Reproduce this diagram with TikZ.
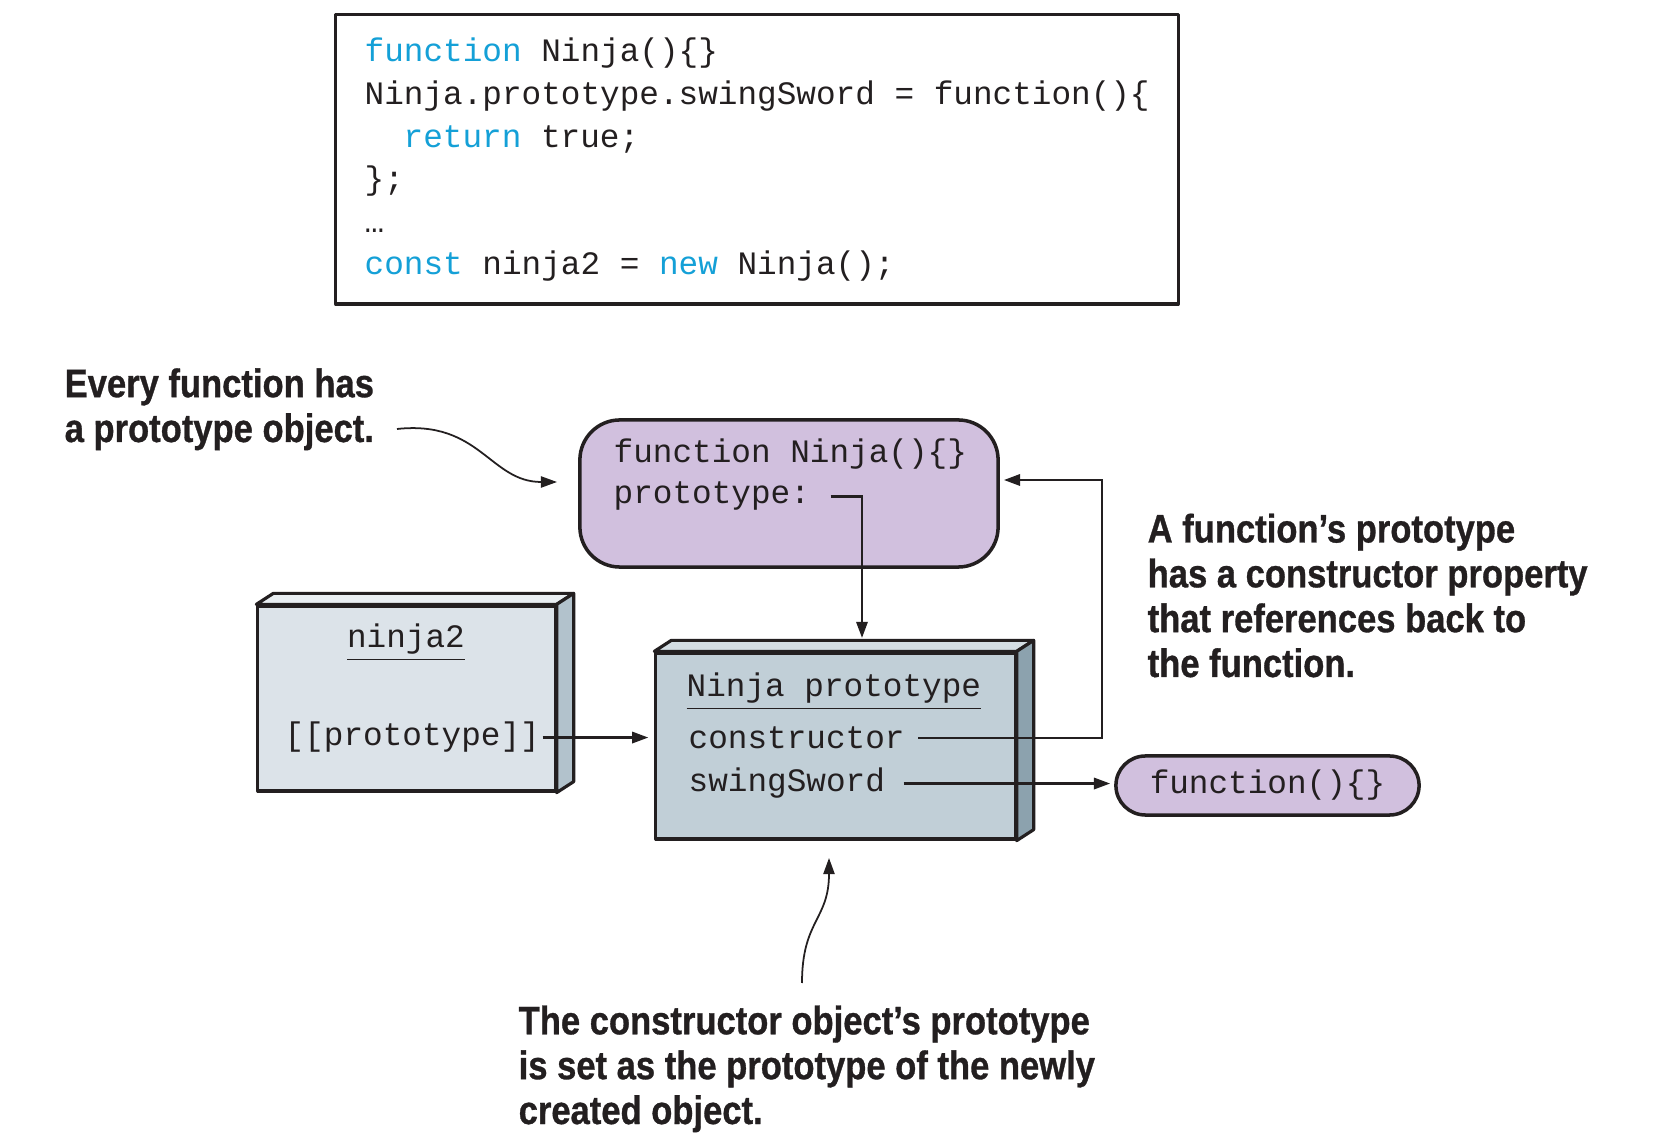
\documentclass[tikz,border=0pt]{standalone}
\usepackage{fontspec}
\setmainfont{Liberation Sans}
\newfontfamily\codefont{Liberation Mono}
\newfontfamily\notefont[FakeStretch=0.87,BoldFeatures={FakeBold=0.8}]{Liberation Sans}
\usetikzlibrary{arrows.meta,calc}

\definecolor{ink}{RGB}{35,31,32}
\definecolor{codeblue}{RGB}{20,160,215}
\definecolor{funcfill}{RGB}{209,192,222}
\definecolor{ninjafront}{RGB}{220,227,233}
\definecolor{ninjatop}{RGB}{233,238,242}
\definecolor{ninjaside}{RGB}{178,194,204}
\definecolor{protofront}{RGB}{193,207,215}
\definecolor{prototop}{RGB}{212,222,228}
\definecolor{protoside}{RGB}{140,162,174}

\begin{document}
\begin{tikzpicture}[x=0.01cm,y=-0.01cm,
  code/.style={font=\codefont\fontsize{9.3}{12.1}\selectfont,inner sep=0pt,anchor=base west,text=ink},
  note/.style={font=\notefont\bfseries\fontsize{11.3}{12.75}\selectfont,inner sep=0pt,anchor=base west,align=left,text=ink},
  face/.style={draw=ink,line width=0.9pt,line join=round},
  conn/.style={draw=ink,line width=0.7pt},
  tip/.style={-{Triangle[length=4.6pt,width=3.2pt]}}]
  \fill[white] (0,0) rectangle (1672,1137);
  \useasboundingbox (0,0) rectangle (1672,1137);

  % code listing
  \node[face,minimum width=8.42cm,minimum height=2.89cm,inner sep=0pt] (codebox) at (757,159.5) {};
  \node[code] (c1) at (364,62) {\textcolor{codeblue}{function} Ninja()\{\}};
  \node[code] (c2) at (364,105) {Ninja.prototype.swingSword = function()\{};
  \node[code] (c3) at (403,148) {\textcolor{codeblue}{return} true;};
  \node[code] (c4) at (364,190) {\};};
  \node[code] (c5) at (364,233) {…};
  \node[code] (c6) at (364,275) {\textcolor{codeblue}{const} ninja2 = \textcolor{codeblue}{new} Ninja();};

  % the Ninja function
  \node[face,fill=funcfill,line width=1pt,rounded corners=0.4cm,minimum width=4.18cm,minimum height=1.47cm] (ninjafn) at (789,493.5) {};
  \node[code] (fnname) at (613,463) {function Ninja()\{\}};
  \node[code] (fnproto) at (613,504) {prototype:};

  % ninja2 object
  \node[face,fill=ninjafront,minimum width=2.97cm,minimum height=1.85cm] (ninja2) at (406.5,698.5) {};
  \draw[face,fill=ninjatop] (ninja2.north west) -- ++(17,-11) -- ($(ninja2.north east)+(17,-11)$) -- (ninja2.north east) -- cycle;
  \draw[face,fill=ninjaside] (ninja2.north east) -- ++(17,-11) -- ($(ninja2.south east)+(17,-11)$) -- (ninja2.south east) -- cycle;
  \node[code,anchor=base] (n2name) at (406,648) {\underline{ninja2}};
  \node[code] (n2proto) at (284,746) {[[prototype]]};

  % Ninja prototype object
  \node[face,fill=protofront,minimum width=3.59cm,minimum height=1.86cm] (proto) at (835.5,746) {};
  \draw[face,fill=prototop] (proto.north west) -- ++(17,-11) -- ($(proto.north east)+(17,-11)$) -- (proto.north east) -- cycle;
  \draw[face,fill=protoside] (proto.north east) -- ++(17,-11) -- ($(proto.south east)+(17,-11)$) -- (proto.south east) -- cycle;
  \node[code] (ptitle) at (686,697) {\underline{Ninja prototype}};
  \node[code] (pctor) at (688,749) {constructor};
  \node[code] (psword) at (688,792) {swingSword};

  % swingSword function
  \node[code,anchor=center,face,fill=funcfill,line width=1pt,rounded corners=0.295cm,minimum width=3.03cm,minimum height=0.59cm] (anon) at (1267.5,785.5) {function()\{\}};

  % connectors
  \coordinate (ptop) at (862,638);
  \coordinate (backturn) at (1102,480);
  \draw[conn,tip] ([xshift=0.2cm]fnproto.east) -| (ptop);
  \draw[conn,tip] ([xshift=0.13cm]pctor.east) -| (backturn) -- ([xshift=0.04cm]ninjafn.east |- backturn);
  \draw[conn,tip] ([xshift=0.18cm]psword.east) -- ([xshift=-0.04cm]anon.west |- psword.east);
  \draw[conn,tip] ([xshift=0.02cm]n2proto.east) -- ([xshift=-0.06cm]proto.west |- n2proto.east);

  % notes (base = last line)
  \node[note] (fnnote) at (64,442) {Every function has\\a prototype object.};
  \node[note] (ctornote) at (1147,677) {A function’s prototype\\has a constructor property\\that references back to\\the function.};
  \node[note] (protonote) at (518,1124) {The constructor object’s prototype\\is set as the prototype of the newly\\created object.};

  \coordinate (fnnoteend) at (397,429);
  \coordinate (fnin) at (557,482);
  \coordinate (protonoteend) at (802,983);
  \coordinate (protoin) at (829,858);
  \draw[conn,line width=0.5pt,tip] (fnnoteend) .. controls (480,420) and (490,482) .. (fnin);
  \draw[conn,line width=0.5pt,tip] (protonoteend) .. controls (802,920) and (829,920) .. (protoin);
\end{tikzpicture}
\end{document}
